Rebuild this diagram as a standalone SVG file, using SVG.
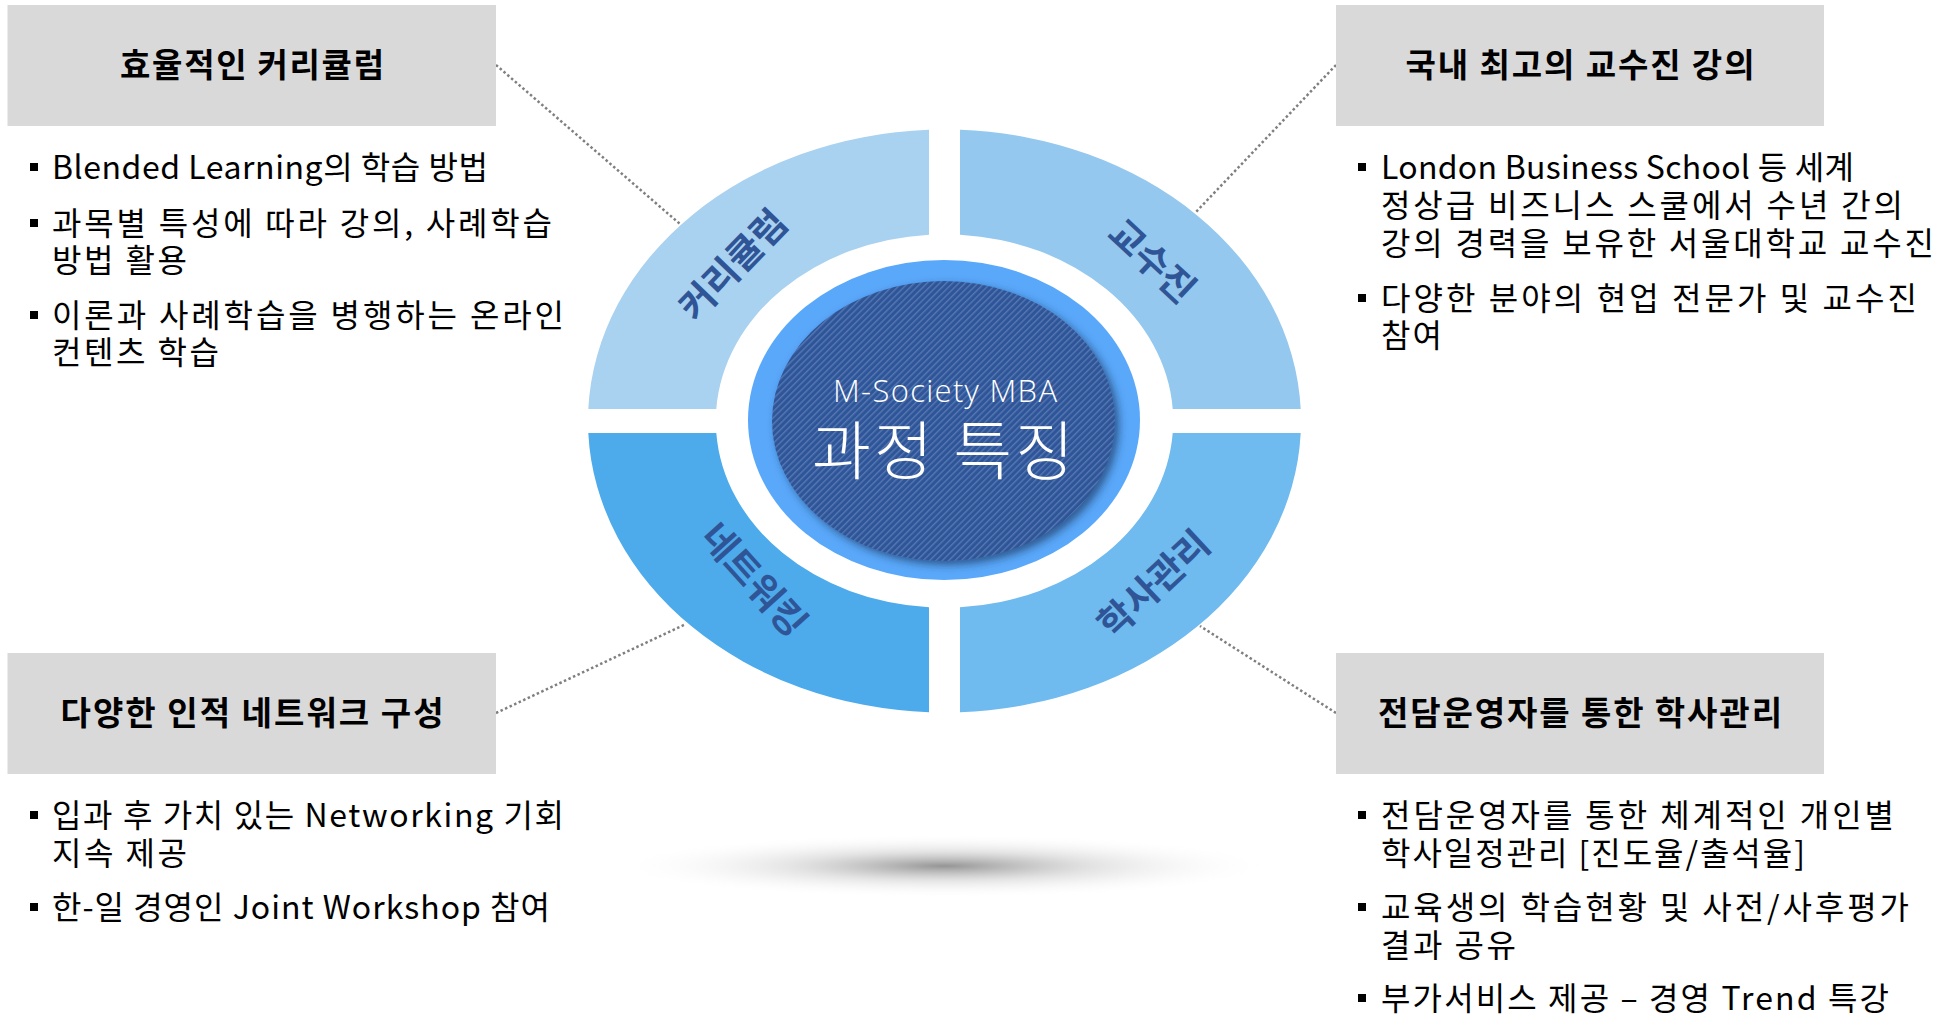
<svg xmlns="http://www.w3.org/2000/svg" width="1954" height="1017" viewBox="0 0 1954 1017">
<style>
.box{fill:#d9d9d9}
.title{font-family:"Noto Sans CJK KR","Noto Sans",sans-serif;font-weight:700;font-size:33px;fill:#000;text-anchor:middle}
.body{font-family:"Noto Sans CJK KR","Noto Sans",sans-serif;font-size:32px;fill:#000}
.bul{fill:#000}
.lbl{font-family:"Noto Sans CJK KR",sans-serif;font-weight:700;font-size:37px;fill:#2f5597;text-anchor:middle;dominant-baseline:central}
.conn{stroke:#7f7f7f;stroke-width:2.5;stroke-dasharray:2.5 2.5;fill:none}
</style>
<defs>
<pattern id="stripes" patternUnits="userSpaceOnUse" width="4.5" height="4.5" patternTransform="rotate(45)">
<rect width="4.5" height="4.5" fill="#2e5597"/>
<rect width="1.4" height="4.5" fill="#5677b3"/>
</pattern>
<radialGradient id="shadow" cx="0.5" cy="0.5" r="0.5">
<stop offset="0" stop-color="#7a7a7a" stop-opacity="0.8"/>
<stop offset="0.45" stop-color="#b0b0b0" stop-opacity="0.35"/>
<stop offset="1" stop-color="#ffffff" stop-opacity="0"/>
</radialGradient>
<filter id="ds" x="-20%" y="-20%" width="140%" height="140%">
<feDropShadow dx="4" dy="4" stdDeviation="4" flood-color="#1f3864" flood-opacity="0.7"/>
</filter>
</defs>
<rect width="1954" height="1017" fill="#fff"/>

<ellipse cx="944" cy="866" rx="330" ry="32" fill="url(#shadow)"/>

<g id="connectors">
<line class="conn" x1="496" y1="65" x2="680" y2="224"/>
<line class="conn" x1="1336" y1="65" x2="1195" y2="213"/>
<line class="conn" x1="496" y1="713" x2="686" y2="624"/>
<line class="conn" x1="1336" y1="713" x2="1200" y2="626"/>
</g>

<g id="ring">
<g id="q-curriculum">
<path d="M 588.3,409 A 356.5 291.5 0 0 1 929,129.8 L 929,234.7 A 228.7 186.7 0 0 0 716.3,409 Z" fill="#a9d1f0"/>
<text class="lbl" transform="translate(731,263) rotate(-46)">커리큘럼</text>
</g>
<g id="q-faculty">
<path d="M 960,129.8 A 356.5 291.5 0 0 1 1300.7,409 L 1172.7,409 A 228.7 186.7 0 0 0 960,234.7 Z" fill="#94c8ee"/>
<text class="lbl" transform="translate(1154,259) rotate(43)">교수진</text>
</g>
<g id="q-network">
<path d="M 588.3,433 L 716.3,433 A 228.7 186.7 0 0 0 929,607.3 L 929,712.2 A 356.5 291.5 0 0 1 588.3,433 Z" fill="#4dabec"/>
<text class="lbl" transform="translate(756,578) rotate(48)">네트워킹</text>
</g>
<g id="q-academic">
<path d="M 960,607.3 A 228.7 186.7 0 0 0 1172.7,433 L 1300.7,433 A 356.5 291.5 0 0 1 960,712.2 Z" fill="#6fbaee"/>
<text class="lbl" transform="translate(1152,582) rotate(-43)">학사관리</text>
</g>
</g>

<g id="center">
<ellipse cx="944" cy="420" rx="196" ry="160" fill="#5aa8fa"/>
<ellipse cx="943.5" cy="421" rx="171.5" ry="140" fill="url(#stripes)" filter="url(#ds)"/>
<text x="945" y="402" font-family="'Open Sans','Noto Sans',sans-serif" font-weight="300" font-size="31" fill="#fff" text-anchor="middle" textLength="224">M-Society MBA</text>
<text x="943" y="474" font-family="'Noto Sans CJK KR',sans-serif" font-weight="300" font-size="64" fill="#fff" text-anchor="middle" textLength="262">과정 특징</text>
</g>

<g id="node-curriculum">
<rect class="box" x="7.5" y="5" width="488.5" height="121"/>
<text class="title" x="252" y="77" textLength="264">효율적인 커리큘럼</text>
<rect class="bul" x="30" y="163" width="8" height="8"/>
<text class="body" x="52" y="179" textLength="436">Blended Learning의 학습 방법</text>
<rect class="bul" x="30" y="219" width="8" height="8"/>
<text class="body" x="52" y="235" textLength="500">과목별 특성에 따라 강의, 사례학습</text>
<text class="body" x="52" y="272" textLength="135">방법 활용</text>
<rect class="bul" x="30" y="311" width="8" height="8"/>
<text class="body" x="52" y="327" textLength="512">이론과 사례학습을 병행하는 온라인</text>
<text class="body" x="52" y="364" textLength="167">컨텐츠 학습</text>
</g>

<g id="node-faculty">
<rect class="box" x="1336" y="5" width="488" height="121"/>
<text class="title" x="1580" y="77" textLength="349">국내 최고의 교수진 강의</text>
<rect class="bul" x="1358" y="163" width="8" height="8"/>
<text class="body" x="1381" y="179" textLength="473">London Business School 등 세계</text>
<text class="body" x="1381" y="217" textLength="522">정상급 비즈니스 스쿨에서 수년 간의</text>
<text class="body" x="1381" y="255" textLength="553">강의 경력을 보유한 서울대학교 교수진</text>
<rect class="bul" x="1358" y="294" width="8" height="8"/>
<text class="body" x="1381" y="310" textLength="536">다양한 분야의 현업 전문가 및 교수진</text>
<text class="body" x="1381" y="347" textLength="61">참여</text>
</g>

<g id="node-network">
<rect class="box" x="7.5" y="653" width="488.5" height="121"/>
<text class="title" x="252" y="725" textLength="383">다양한 인적 네트워크 구성</text>
<rect class="bul" x="30" y="811" width="8" height="8"/>
<text class="body" x="52" y="827" textLength="512">입과 후 가치 있는 Networking 기회</text>
<text class="body" x="52" y="865" textLength="135">지속 제공</text>
<rect class="bul" x="30" y="903" width="8" height="8"/>
<text class="body" x="52" y="919" textLength="498">한-일 경영인 Joint Workshop 참여</text>
</g>

<g id="node-academic">
<rect class="box" x="1336" y="653" width="488" height="121"/>
<text class="title" x="1580" y="725" textLength="404">전담운영자를 통한 학사관리</text>
<rect class="bul" x="1358" y="811" width="8" height="8"/>
<text class="body" x="1381" y="827" textLength="513">전담운영자를 통한 체계적인 개인별</text>
<text class="body" x="1381" y="865" textLength="424">학사일정관리 [진도율/출석율]</text>
<rect class="bul" x="1358" y="903" width="8" height="8"/>
<text class="body" x="1381" y="919" textLength="528">교육생의 학습현황 및 사전/사후평가</text>
<text class="body" x="1381" y="957" textLength="135">결과 공유</text>
<rect class="bul" x="1358" y="994" width="8" height="8"/>
<text class="body" x="1381" y="1010" textLength="508">부가서비스 제공 – 경영 Trend 특강</text>
</g>
</svg>
